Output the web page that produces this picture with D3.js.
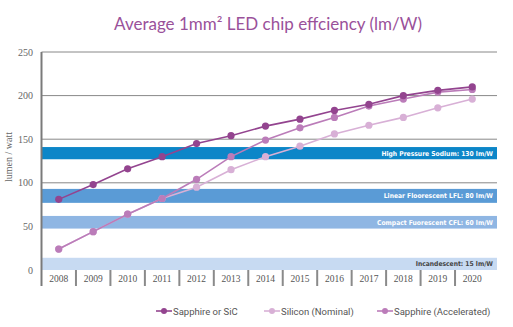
<!DOCTYPE html>
<html>
<head>
<meta charset="utf-8">
<script src="https://cdn.jsdelivr.net/npm/d3@7"></script>
<style>
  html, body { margin: 0; padding: 0; background: #fff; }
  svg { display: block; }
</style>
</head>
<body>
<svg id="chart" width="513" height="327"></svg>
<script>
const years = ["2008","2009","2010","2011","2012","2013","2014","2015","2016","2017","2018","2019","2020"];
const sapphireSiC = [81, 98, 116, 130, 145, 154, 165, 173, 183, 190, 200, 206, 210];
const siliconNominal = [24, 44, 64, 82, 95, 115, 130, 142, 156, 166, 175, 186, 196];
const sapphireAccel = [24, 44, 64, 82, 104, 130, 149, 163, 175, 188, 196, 204, 207];
const yTicks = [0, 50, 100, 150, 200, 250];
const gridValues = [100, 150, 200, 250];
const bandLabels = ["High Pressure Sodium: 130 lm/W", "Linear Floorescent LFL: 80 lm/W", "Compact Fuorescent CFL: 60 lm/W", "Incandescent: 15 lm/W"];
const bandLow = [127, 77, 47.5, 0];
const bandHigh = [141, 93, 62, 14];
const bandColors = ["#0c86c8", "#5a9bd6", "#8fb6e3", "#c7daf2"];
const bandTextColors = ["#fff", "#fff", "#fff", "#444"];
const seriesNames = ["Sapphire or SiC", "Silicon (Nominal)", "Sapphire (Accelerated)"];
const seriesColors = ["#93448f", "#d8b0d6", "#bb7cb9"];

const svg = d3.select("#chart");
const pLeft = 41.5, pRight = 497, pTop = 52, pBottom = 270;

const x = d3.scaleBand().domain(years).range([pLeft, 489.5]);
const y = d3.scaleLinear().domain([0, 250]).range([pBottom, pTop]);

// Title
svg.append("text")
  .attr("x", 268).attr("y", 30)
  .attr("text-anchor", "middle")
  .attr("font-family", "Lato, 'Open Sans', sans-serif")
  .attr("font-size", 17)
  .attr("fill", "#9a519a")
  .text("Average 1mm² LED chip effciency (lm/W)");

// Gridlines
svg.append("g").selectAll("line").data(gridValues).join("line")
  .attr("x1", pLeft).attr("x2", pRight)
  .attr("y1", d => y(d)).attr("y2", d => y(d))
  .attr("stroke", "#888").attr("stroke-width", 1);

// Bands
const bands = bandLabels.map((l, i) => ({label: l, lo: bandLow[i], hi: bandHigh[i], color: bandColors[i], tc: bandTextColors[i]}));
const bg = svg.append("g");
bg.selectAll("rect").data(bands).join("rect")
  .attr("x", pLeft).attr("width", pRight - pLeft)
  .attr("y", d => y(d.hi)).attr("height", d => y(d.lo) - y(d.hi))
  .attr("fill", d => d.color);
bg.selectAll("text").data(bands).join("text")
  .attr("x", 493).attr("y", d => (y(d.hi) + y(d.lo)) / 2 + 2.5)
  .attr("text-anchor", "end")
  .attr("font-family", "'DejaVu Sans', sans-serif")
  .attr("font-stretch", "condensed")
  .attr("font-weight", "bold")
  .attr("font-size", 6.7)
  .attr("fill", d => d.tc)
  .text(d => d.label);

// Y axis line
svg.append("line")
  .attr("x1", pLeft).attr("x2", pLeft).attr("y1", pTop).attr("y2", 286)
  .attr("stroke", "#7a7a7a").attr("stroke-width", 2);

// Y tick labels
svg.append("g").selectAll("text").data(yTicks).join("text")
  .attr("x", 33).attr("y", d => y(d) + 3.5)
  .attr("text-anchor", "end")
  .attr("font-family", "'Liberation Serif', serif")
  .attr("font-size", 10)
  .attr("fill", "#666")
  .text(d => d);

// Y axis title
svg.append("text")
  .attr("transform", "translate(12,157) rotate(-90)")
  .attr("text-anchor", "middle")
  .attr("font-family", "'Liberation Serif', serif")
  .attr("font-size", 10)
  .attr("fill", "#666")
  .text("lumen / watt");

// X axis separators and labels
svg.append("g").selectAll("line").data(years.slice(1)).join("line")
  .attr("x1", d => x(d)).attr("x2", d => x(d))
  .attr("y1", pBottom).attr("y2", 286)
  .attr("stroke", "#8a8a8a").attr("stroke-width", 2);
svg.append("g").selectAll("text").data(years).join("text")
  .attr("x", d => x(d) + x.bandwidth() / 2).attr("y", 281.5)
  .attr("text-anchor", "middle")
  .attr("font-family", "'Liberation Serif', serif")
  .attr("font-size", 9.5)
  .attr("fill", "#555")
  .text(d => d);

// Series
const seriesData = [sapphireSiC, siliconNominal, sapphireAccel];
const order = [1, 2, 0];
const line = d3.line().x((d, i) => x(years[i]) + x.bandwidth() / 2).y(d => y(d));
order.forEach(si => {
  const g = svg.append("g");
  g.append("path").datum(seriesData[si])
    .attr("d", line).attr("fill", "none")
    .attr("stroke", seriesColors[si]).attr("stroke-width", 1.6);
  g.selectAll("circle").data(seriesData[si]).join("circle")
    .attr("cx", (d, i) => x(years[i]) + x.bandwidth() / 2)
    .attr("cy", d => y(d))
    .attr("r", 3.6)
    .attr("fill", seriesColors[si]);
});

// Legend
const legendX = [156, 264, 377];
const lg = svg.append("g");
seriesNames.forEach((n, i) => {
  const g = lg.append("g").attr("transform", `translate(${legendX[i]},311)`);
  g.append("line").attr("x1", 0).attr("x2", 16).attr("y1", 0).attr("y2", 0)
    .attr("stroke", seriesColors[i]).attr("stroke-width", 1.6);
  g.append("circle").attr("cx", 8).attr("cy", 0).attr("r", 3).attr("fill", seriesColors[i]);
  g.append("text").attr("x", 17).attr("y", 3.5)
    .attr("font-family", "Roboto, sans-serif")
    .attr("font-size", 9.5)
    .attr("fill", "#555")
    .text(n);
});
</script>
</body>
</html>
